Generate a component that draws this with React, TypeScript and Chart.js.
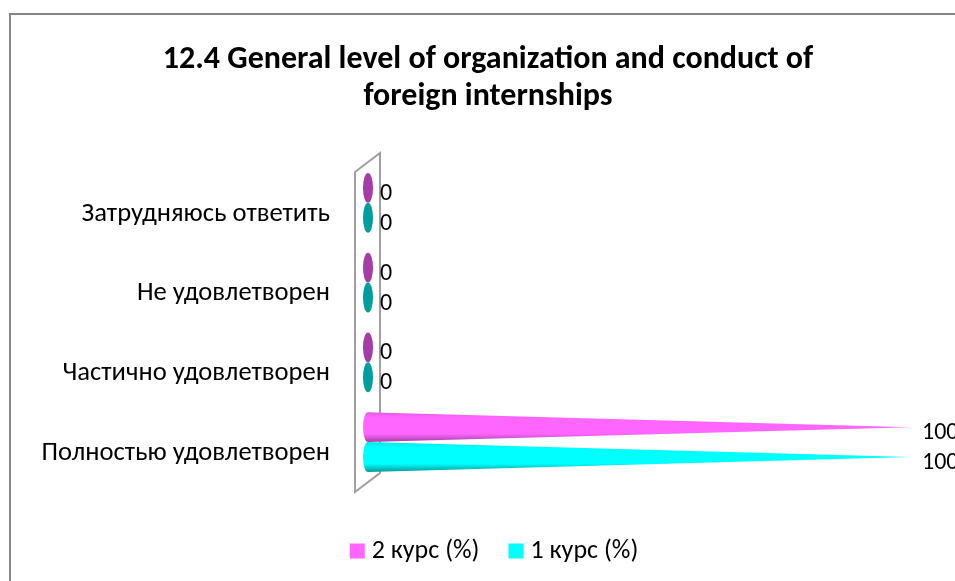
import React, { useEffect, useRef } from "react";
import { Chart, registerables } from "chart.js";

Chart.register(...registerables);

const categories = ["Затрудняюсь ответить", "Не удовлетворен", "Частично удовлетворен", "Полностью удовлетворен"];
const course2 = [0, 0, 0, 100];
const course1 = [0, 0, 0, 100];
const titleLines = ["12.4 General level of organization and conduct of", "foreign internships"];
const seriesNames = ["2 курс (%)", "1 курс (%)"];

const FONT = '"Carlito", "Lato", "Open Sans", sans-serif';

const shades = [
  { base: "#FF66FF", edge: "#E05CE0", dark: "#A23FA8", flat: "#A53DA8" },
  { base: "#00FFFF", edge: "#00E8E8", dark: "#009A9A", flat: "#009E9E" },
];

const conePlugin = {
  id: "cones",
  beforeDraw(chart: any) {
    const { ctx, width, height } = chart;
    ctx.save();
    ctx.fillStyle = "#FFFFFF";
    ctx.fillRect(0, 0, width, height);
    ctx.strokeStyle = "#868686";
    ctx.lineWidth = 2;
    ctx.strokeRect(10, 14, width + 40, height + 40);
    ctx.restore();
  },
  afterLayout(chart: any) {
    chart.legend.left += 9;
    chart.legend.right += 9;
    chart.legend.top -= 7;
    chart.legend.bottom -= 7;
    chart.scales.y.left = 0;
  },
  beforeDatasetsDraw(chart: any) {
    const { ctx, chartArea: a } = chart;
    ctx.save();
    ctx.strokeStyle = "#A0A0A0";
    ctx.lineWidth = 2;
    ctx.lineJoin = "miter";
    ctx.beginPath();
    ctx.moveTo(a.left - 13, a.top + 9);
    ctx.lineTo(a.left + 12, a.top - 10);
    ctx.lineTo(a.left + 12, a.bottom - 9);
    ctx.lineTo(a.left - 13, a.bottom + 10);
    ctx.closePath();
    ctx.stroke();
    ctx.restore();
  },
  beforeDatasetDraw(chart: any, args: any) {
    const { ctx } = chart;
    const shade = shades[args.index];
    const meta = chart.getDatasetMeta(args.index);
    ctx.save();
    meta.data.forEach((bar: any) => {
      const h = bar.height / 2;
      const rx = 5;
      if (Math.abs(bar.x - bar.base) < 1) {
        ctx.fillStyle = shade.flat;
        ctx.beginPath();
        ctx.ellipse(bar.base, bar.y, rx, h, 0, 0, Math.PI * 2);
        ctx.fill();
      } else {
        const g = ctx.createLinearGradient(0, bar.y - h, 0, bar.y + h);
        g.addColorStop(0, shade.edge);
        g.addColorStop(0.18, shade.base);
        g.addColorStop(0.72, shade.base);
        g.addColorStop(1, shade.dark);
        ctx.fillStyle = g;
        ctx.beginPath();
        ctx.moveTo(bar.base, bar.y - h);
        ctx.lineTo(bar.x, bar.y);
        ctx.lineTo(bar.base, bar.y + h);
        ctx.ellipse(bar.base, bar.y, rx, h, 0, Math.PI / 2, (Math.PI * 3) / 2);
        ctx.closePath();
        ctx.fill();
      }
    });
    ctx.restore();
    return false;
  },
  afterDatasetsDraw(chart: any) {
    const { ctx } = chart;
    ctx.save();
    ctx.font = `24px ${FONT}`;
    ctx.fillStyle = "#000000";
    ctx.textAlign = "left";
    ctx.textBaseline = "middle";
    chart.data.datasets.forEach((ds: any, i: number) => {
      chart.getDatasetMeta(i).data.forEach((bar: any, j: number) => {
        ctx.fillText(String(ds.data[j]), bar.x + 12, bar.y + 6);
      });
    });
    ctx.restore();
  },
};

export default function App() {
  const ref = useRef<HTMLCanvasElement>(null);
  useEffect(() => {
    const chart = new Chart(ref.current as HTMLCanvasElement, {
      type: "bar",
      data: {
        labels: categories,
        datasets: [
          { label: seriesNames[0], data: course2, backgroundColor: shades[0].base },
          { label: seriesNames[1], data: course1, backgroundColor: shades[1].base },
        ],
      },
      options: {
        indexAxis: "y",
        animation: false,
        responsive: false,
        layout: { padding: { left: 66, right: 45, top: 0, bottom: 0 } },
        datasets: { bar: { barPercentage: 1, categoryPercentage: 0.75 } },
        scales: {
          x: {
            min: 0,
            max: 100,
            grid: { display: false },
            border: { display: false },
            ticks: { display: false },
            afterFit: (s: any) => {
              s.height = 28;
            },
          },
          y: {
            grid: { display: false, drawTicks: false },
            border: { display: false },
            ticks: {
              color: "#000000",
              padding: 38,
              labelOffset: 11,
              font: { family: FONT, size: 26.6 },
            },
            afterFit: (s: any) => {
              s.width = 302;
            },
          },
        },
        plugins: {
          tooltip: { enabled: false },
          title: {
            display: true,
            text: titleLines,
            color: "#000000",
            font: { family: FONT, size: 32, weight: "bold", lineHeight: 1.156 },
            padding: { top: 42, bottom: 47 },
          },
          legend: {
            position: "bottom",
            labels: {
              color: "#000000",
              usePointStyle: true,
              pointStyle: "rect",
              boxWidth: 3,
              boxHeight: 15,
              padding: 35,
              font: { family: FONT, size: 26 },
            },
          },
        },
      },
      plugins: [conePlugin],
    } as any);
    return () => chart.destroy();
  }, []);
  return (
    <canvas
      ref={ref}
      width={955}
      height={581}
      style={{ position: "fixed", left: 0, top: 0, display: "block" }}
    />
  );
}
